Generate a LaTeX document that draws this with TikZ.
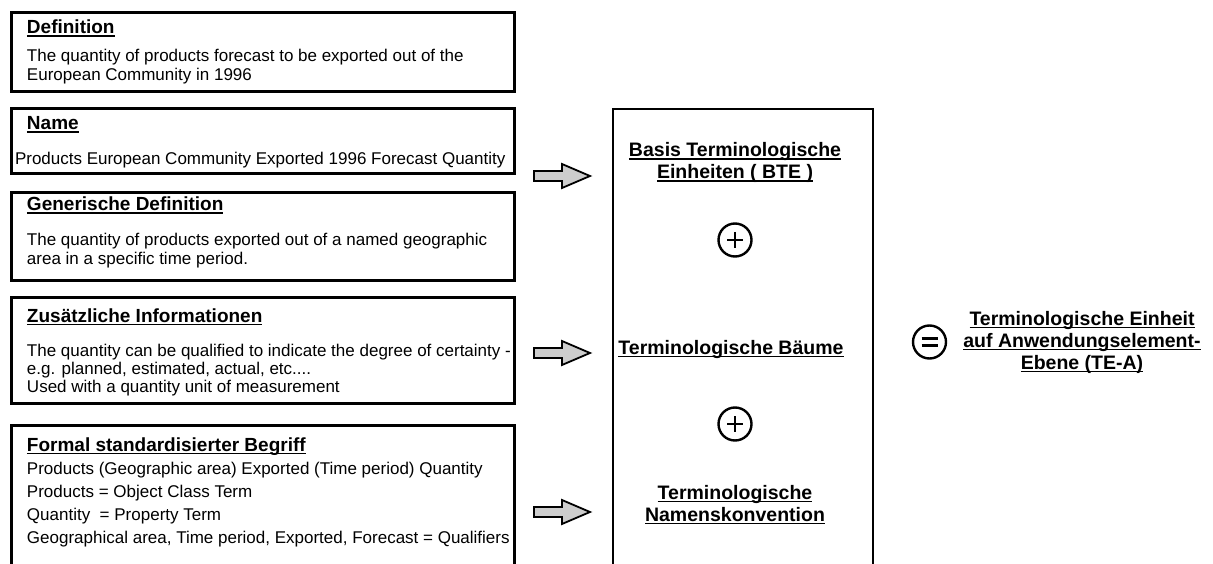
\documentclass[tikz,border=0pt]{standalone}
\usepackage{fontspec}
\setmainfont{Liberation Sans}
\usetikzlibrary{arrows.meta,calc,positioning}
\definecolor{arrowgray}{RGB}{205,205,205}
\newsavebox\ulbox
\newcommand\ulined[1]{\sbox\ulbox{#1}\rlap{\rule[-3pt]{\wd\ulbox}{1.5pt}}\usebox\ulbox}
\tikzset{
  every node/.style={inner sep=0pt, outer sep=0pt},
  info box/.style={draw=black, line width=3pt, minimum width=503pt, anchor=north west},
  core box/.style={draw=black, line width=2.5pt, minimum width=260pt, anchor=north west},
  box title/.style={anchor=base west, font=\fontsize{19}{22}\selectfont\bfseries},
  box text/.style={anchor=base west, align=left, font=\fontsize{17}{19}\selectfont},
  term/.style={anchor=base, align=center, font=\fontsize{19.5}{22}\selectfont\bfseries},
  op circle/.style={circle, draw=black, line width=2.4pt, minimum size=33pt},
  feed arrow/.style={draw=black, fill=arrowgray, line width=1.8pt, line join=miter}
}
\newcommand\feedarrow[1]{%
  \draw[feed arrow] (#1) ++(0,-5) -- ++(-28,0) -- ++(0,10) -- ++(28,0)
    -- ++(0,7) -- ++(28,-12) -- ++(-28,-12) -- cycle;}

\begin{document}
\begin{tikzpicture}[x=1pt,y=-1pt]
  \useasboundingbox (0,0) rectangle (1213,564);

  % left column (multi-line texts sit on their last baseline)
  \node[info box, minimum height=79] (def) at (11.5,12.5) {};
  \node[info box, minimum height=65] (name) at (11.5,108.5) {};
  \node[info box, minimum height=88] (gen) at (11.5,192.5) {};
  \node[info box, minimum height=106] (extra) at (11.5,297.5) {};
  \node[info box, minimum height=150] (formal) at (11.5,425.5) {};

  \node[box title] (def title) at (27,34) {\ulined{Definition}};
  \node[box text] (def text) at (27,81) {The quantity of products forecast to be exported out of the\\
    European Community in 1996};

  \node[box title] (name title) at (27,130) {\ulined{Name}};
  \node[box text] (name text) at (15,165) {Products European Community Exported 1996 Forecast Quantity};

  \node[box title] (gen title) at (27,211) {\ulined{Generische Definition}};
  \node[box text] (gen text) at (27,265) {The quantity of products exported out of a named geographic\\
    area in a specific time period.};

  \node[box title] (extra title) at (27,322) {\ulined{Zusätzliche Informationen}};
  \node[box text, font=\fontsize{17}{18}\selectfont] (extra text) at (27,392)
    {The quantity can be qualified to indicate the degree of certainty -\\
    e.g. planned, estimated, actual, etc....\\
    Used with a quantity unit of measurement};

  \node[box title] (formal title) at (27,451) {\ulined{Formal standardisierter Begriff}};
  \node[box text, font=\fontsize{17}{23}\selectfont] (formal text) at (27,543)
    {Products (Geographic area) Exported (Time period) Quantity\\
    Products = Object Class Term\\
    Quantity\ \ = Property Term\\
    Geographical area, Time period, Exported, Forecast = Qualifiers};

  % block arrows
  \foreach \y in {176,353,512} {
    \coordinate (arr\y) at (562,\y);
    \feedarrow{arr\y}
  }

  % middle column
  \node[core box, minimum height=470] (core) at (613,109) {};
  \node[term] (bte) at (735,179) {\ulined{Basis Terminologische}\\ \ulined{Einheiten ( BTE )}};
  \node[op circle] (plus1) at (735,240) {};
  \draw[line width=2.4pt] ($(plus1)+(-8,0)$) -- ($(plus1)+(8,0)$)
    ($(plus1)+(0,-8)$) -- ($(plus1)+(0,8)$);
  \node[term] (trees) at (731,354) {\ulined{Terminologische Bäume}};
  \node[op circle] (plus2) at (735,424) {};
  \draw[line width=2.4pt] ($(plus2)+(-8,0)$) -- ($(plus2)+(8,0)$)
    ($(plus2)+(0,-8)$) -- ($(plus2)+(0,8)$);
  \node[term] (naming) at (735,521) {\ulined{Terminologische}\\ \ulined{Namenskonvention}};

  % result
  \node[op circle] (equal) at (929.5,342) {};
  \draw[line width=2.4pt] ($(equal)+(-8,-3.5)$) -- ($(equal)+(8,-3.5)$)
    ($(equal)+(-8,3.5)$) -- ($(equal)+(8,3.5)$);
  \node[term] (result) at (1082,369) {\ulined{Terminologische Einheit}\\
    \ulined{auf Anwendungselement-}\\ \ulined{Ebene (TE-A)}};

\end{tikzpicture}
\end{document}
